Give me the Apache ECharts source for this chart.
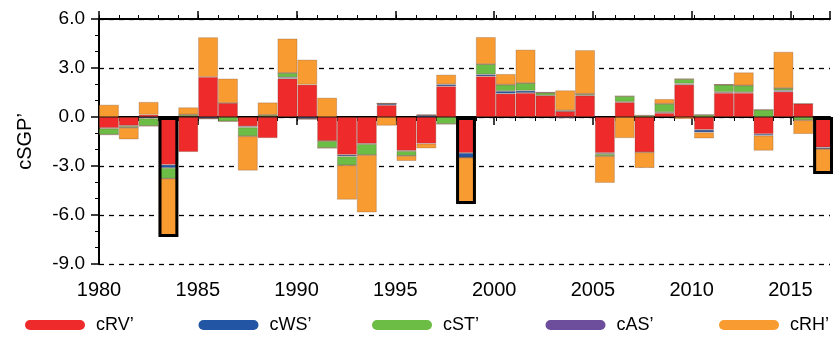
<!DOCTYPE html>
<html>
<head>
<meta charset="utf-8">
<script src="https://cdn.jsdelivr.net/npm/echarts@6/dist/echarts.min.js"></script>
<style>
    html, body { margin: 0; padding: 0; background: #fff; }
    #chart { width: 833px; height: 337px; }
</style>
</head>
<body>
<div id="chart"></div>
<script>
// years 1980 - 2016
let years = []
for (let y = 1980; y <= 2016; y++) years.push(y)

let cRV = [-0.67, -0.53, 0.14, -2.92, -2.14, 2.45, 0.86, -0.57, -1.29, 2.35,
           1.98, -1.47, -2.31, -1.63, 0.73, -2.06, -1.63, 1.88, -2.20, 2.49,
           1.43, 1.47, 1.31, 0.35, 1.31, -2.20, 0.90, -2.16, 0.24, 1.98,
           -0.78, 1.47, 1.47, -1.04, 1.55, 0.82, -1.86]
let cWS = [-0.03, -0.03, -0.08, -0.20, 0.05, -0.10, 0, -0.06, 0.03, 0.08,
           -0.12, 0, -0.10, -0.03, 0.10, -0.03, 0.12, 0.12, -0.29, 0.12,
           0.16, 0.14, 0.02, 0, 0.03, -0.06, 0.03, 0, 0.06, 0.06,
           -0.16, 0.06, 0.05, -0.10, 0.08, 0, -0.10]
let cST = [-0.38, -0.10, -0.47, -0.65, 0.10, 0, -0.27, -0.55, 0.10, 0.27,
           0, -0.43, -0.55, -0.67, 0, -0.29, 0, -0.43, 0, 0.63,
           0.39, 0.47, 0.16, 0.06, 0.08, -0.14, 0.35, 0.10, 0.51, 0.29,
           0.14, 0.45, 0.41, 0.45, 0.14, -0.20, 0]
let cAS = [0, 0, 0, 0, 0, 0, 0, 0, 0, 0,
           0, 0, 0, 0, 0, 0, 0, 0, 0, 0,
           0, 0, 0, -0.08, 0, 0, 0, 0, 0, 0,
           0, 0, 0, 0, 0, 0, 0]
let cRH = [0.75, -0.71, 0.78, -3.57, 0.44, 2.43, 1.49, -2.10, 0.76, 2.10,
           1.53, 1.18, -2.10, -3.51, -0.53, -0.31, -0.29, 0.59, -2.84, 1.65,
           0.65, 2.04, 0.03, 1.22, 2.67, -1.63, -1.29, -0.96, 0.29, -0.12,
           -0.37, 0, 0.80, -0.92, 2.22, -0.84, -1.53]

// 黑框标出的年份
let boxYears = [1983, 1998, 2016]

let names = ['cRV\u2019', 'cWS\u2019', 'cST\u2019', 'cAS\u2019', 'cRH\u2019']
let colors = ['#ee2a2a', '#2256a4', '#6bbd45', '#6c4e9c', '#f89c32']
let comps = [cRV, cWS, cST, cAS, cRH]

const FONT = 'Liberation Sans, Arial, sans-serif'

let chart = echarts.init(document.getElementById('chart'), null, {renderer: 'canvas'})

// 三个重叠的 grid：主刻度 / 次刻度 / 柱子
let gridBox = {left: 99, right: 0, top: 19, bottom: 73}
let grids = [gridBox, gridBox, gridBox]

let series = []
comps.forEach((arr, i) => {
    series.push({
        name: names[i],
        type: 'bar',
        stack: 'all',
        xAxisIndex: 4,
        yAxisIndex: 2,
        barCategoryGap: '0%',
        barGap: '-100%',
        data: arr,
        itemStyle: {
            color: colors[i],
            borderColor: 'rgba(110,70,50,0.35)',
            borderWidth: 0.8
        }
    })
})

// 黑框：负值总和
series.push({
    name: 'box',
    type: 'bar',
    xAxisIndex: 4,
    yAxisIndex: 2,
    barCategoryGap: '0%',
    barGap: '-100%',
    z: 5,
    data: years.map((y, k) => {
        if (boxYears.indexOf(y) < 0) return '-'
        let neg = 0
        comps.forEach(arr => { if (arr[k] < 0) neg += arr[k] })
        return neg
    }),
    itemStyle: {
        color: 'rgba(0,0,0,0)',
        borderColor: '#000',
        borderWidth: 3
    }
})

function valAxis(grid, pos, interval, len, labels) {
    return {
        type: 'value',
        gridIndex: grid,
        position: pos,
        min: 1980,
        max: 2017,
        interval: interval,
        axisLine: {show: len > 5, lineStyle: {color: '#000', width: 2}},
        axisTick: {show: true, length: len, lineStyle: {color: '#000', width: len > 5 ? 1.5 : 1}},
        axisLabel: labels ? {
            fontSize: 20, color: '#000', margin: 16, fontFamily: FONT,
            formatter: v => (v % 5 === 0 ? String(v) : '')
        } : {show: false},
        splitLine: {show: false}
    }
}

function yAxis(grid, show) {
    return {
        type: 'value',
        gridIndex: grid,
        min: -9,
        max: 6,
        interval: 3,
        show: show
    }
}

let legends = names.map((n, i) => ({
    data: [n],
    left: 25 + i * 173.5,
    top: 316,
    padding: 0,
    itemWidth: 60,
    itemHeight: 10,
    icon: 'path://M5,0 H55 A5,5 0 0 1 55,10 H5 A5,5 0 0 1 5,0 Z',
    itemStyle: {borderWidth: 0},
    selectedMode: false,
    textStyle: {fontSize: 18, color: '#000', fontFamily: FONT, padding: [0, 0, 0, 6]}
}))

chart.setOption({
    animation: false,
    textStyle: {fontFamily: FONT},
    grid: grids,
    legend: legends,
    xAxis: [
        valAxis(0, 'bottom', 5, 8, true),
        valAxis(0, 'top', 5, 8, false),
        valAxis(1, 'bottom', 1, 4, false),
        valAxis(1, 'top', 1, 4, false),
        {type: 'category', gridIndex: 2, data: years, boundaryGap: true, show: false}
    ],
    yAxis: [
        Object.assign(yAxis(0, true), {
            name: 'cSGP\u2019',
            nameLocation: 'middle',
            nameGap: 64,
            nameRotate: 90,
            nameTextStyle: {fontSize: 20, color: '#000', fontFamily: FONT},
            axisLine: {show: true, lineStyle: {color: '#000', width: 2}},
            axisTick: {show: true, length: 8, lineStyle: {color: '#000', width: 1.5}},
            minorTick: {show: true, splitNumber: 3, length: 4, lineStyle: {color: '#000', width: 1}},
            axisLabel: {
                fontSize: 19, color: '#000', margin: 14, fontFamily: FONT,
                formatter: v => v.toFixed(1)
            },
            splitLine: {show: true, lineStyle: {color: '#000', width: 1.3, type: [5, 5]}}
        }),
        yAxis(1, false),
        yAxis(2, false)
    ],
    series: series
})
</script>
</body>
</html>
